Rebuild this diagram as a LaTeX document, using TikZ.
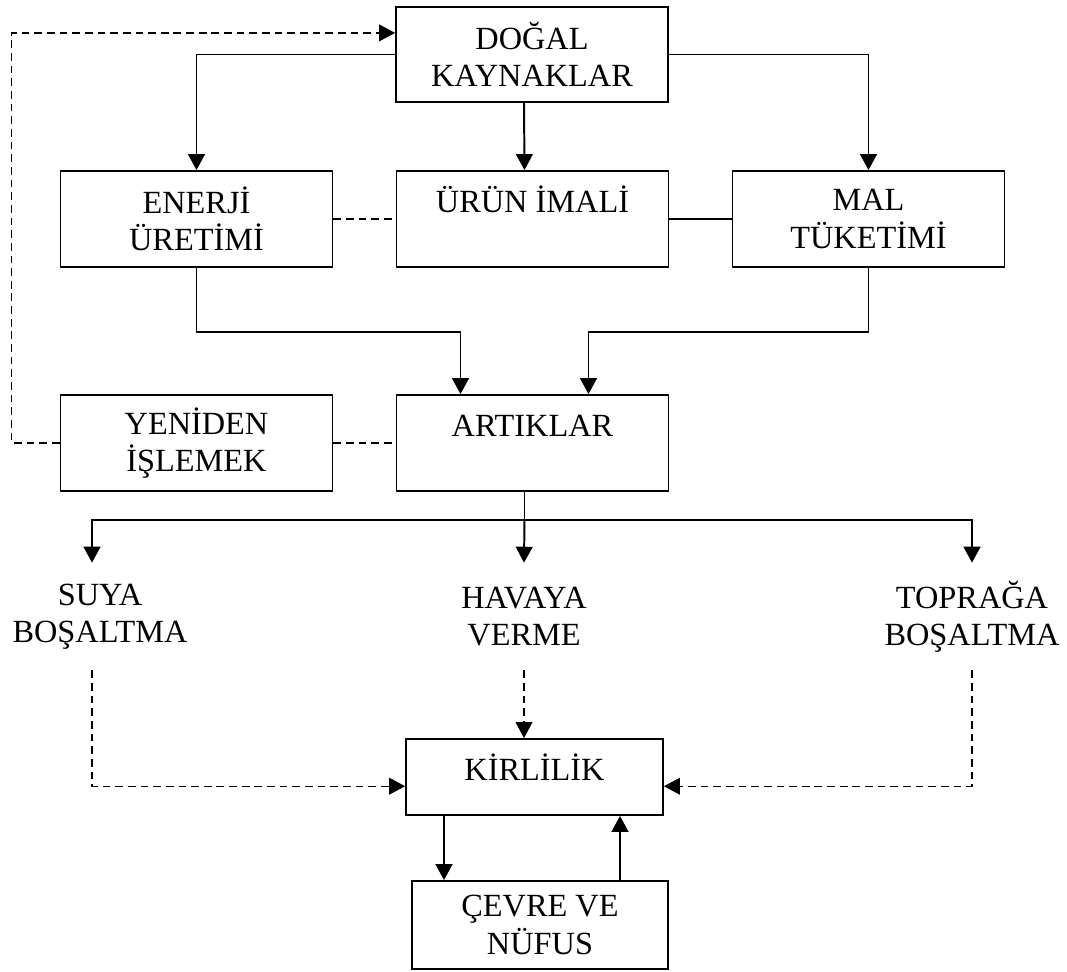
\documentclass[tikz,border=0pt]{standalone}
\usepackage{fontspec}
\setmainfont{Liberation Serif}
\usepackage{tikz}
\usetikzlibrary{arrows.meta,positioning,calc}

\begin{document}
\begin{tikzpicture}[>={Triangle[length=0.4cm,width=0.42cm]},
  font=\fontsize{23}{26.5}\selectfont,
  box/.style={draw,line width=1.3pt,minimum width=6.8cm,minimum height=2.4cm,align=center,inner sep=2pt},
  topline/.style={text height=0.6cm,text depth=0.95cm},
  lbl/.style={align=center,inner sep=0pt,minimum height=2.675cm},
  link/.style={line width=1.2pt},
  arr/.style={->,line width=1.4pt},
  dsh/.style={line width=1pt,dash pattern=on 5.5pt off 3.5pt}]
  \useasboundingbox (0,0) rectangle (26.675,-24.275);
  % boxes
  \node[box,minimum height=2.375cm] (dogal) at (13.3,-1.3625) {DOĞAL\\KAYNAKLAR};
  \node[box] (enerji) at (4.9125,-5.475) {ENERJİ\\ÜRETİMİ};
  \node[box,topline] (urun) at (13.3125,-5.475) {ÜRÜN İMALİ};
  \node[box] (mal) at (21.7125,-5.475) {MAL\\TÜKETİMİ};
  \node[box] (yeniden) at (4.9125,-11.075) {YENİDEN\\İŞLEMEK};
  \node[box,topline] (artiklar) at (13.3125,-11.075) {ARTIKLAR};
  \node[lbl] (suya) at (2.5,-15.4125) {SUYA\\BOŞALTMA};
  \node[lbl] (havaya) at (13.1,-15.4125) {HAVAYA\\VERME};
  \node[lbl] (topraga) at (24.3,-15.4125) {TOPRAĞA\\BOŞALTMA};
  \node[box,minimum width=6.425cm,minimum height=1.9cm,text height=0.6cm,text depth=0.45cm] (kirlilik) at (13.3625,-19.425) {KİRLİLİK};
  \node[box,minimum width=6.4cm,minimum height=2.2cm] (cevre) at (13.5,-23.125) {ÇEVRE VE\\NÜFUS};
  % top part
  \draw[arr] (dogal.west) -| (enerji.north);
  \draw[arr] ([xshift=-0.2cm]dogal.south) -- ([xshift=-0.2cm]urun.north);
  \draw[arr] (dogal.east) -| (mal.north);
  \draw[dsh] (enerji.east) -- (urun.west);
  \draw[link] (urun.east) -- (mal.west);
  \draw[arr] (enerji.south) -- ++(0,-1.6) -| ([xshift=-1.8cm]artiklar.north);
  \draw[arr] (mal.south) -- ++(0,-1.6) -| ([xshift=1.4cm]artiklar.north);
  \draw[dsh] (yeniden.east) -- (artiklar.west);
  \draw[dsh,->] (yeniden.west) -- ++(-1.2,0) |- ([yshift=0.54cm]dogal.west);
  % outputs
  \draw[link] ([xshift=-0.2cm]artiklar.south) -- ++(0,-0.7) coordinate (split);
  \draw[arr] (split) -| ([xshift=-0.2cm]suya.north);
  \draw[arr] (split) -| (topraga.north);
  \draw[arr] (split) -- (havaya.north);
  \draw[dsh,->] ([xshift=-0.2cm]suya.south) |- ([yshift=-0.23cm]kirlilik.west);
  \draw[dsh,->] (havaya.south) -- (havaya.south |- kirlilik.north);
  \draw[dsh,->] (topraga.south) |- ([yshift=-0.23cm]kirlilik.east);
  % loop
  \draw[arr] ([xshift=-2.4cm]cevre.north |- kirlilik.south) -- ([xshift=-2.4cm]cevre.north);
  \draw[arr] ([xshift=2cm]cevre.north) -- ([xshift=2cm]cevre.north |- kirlilik.south);
\end{tikzpicture}
\end{document}
